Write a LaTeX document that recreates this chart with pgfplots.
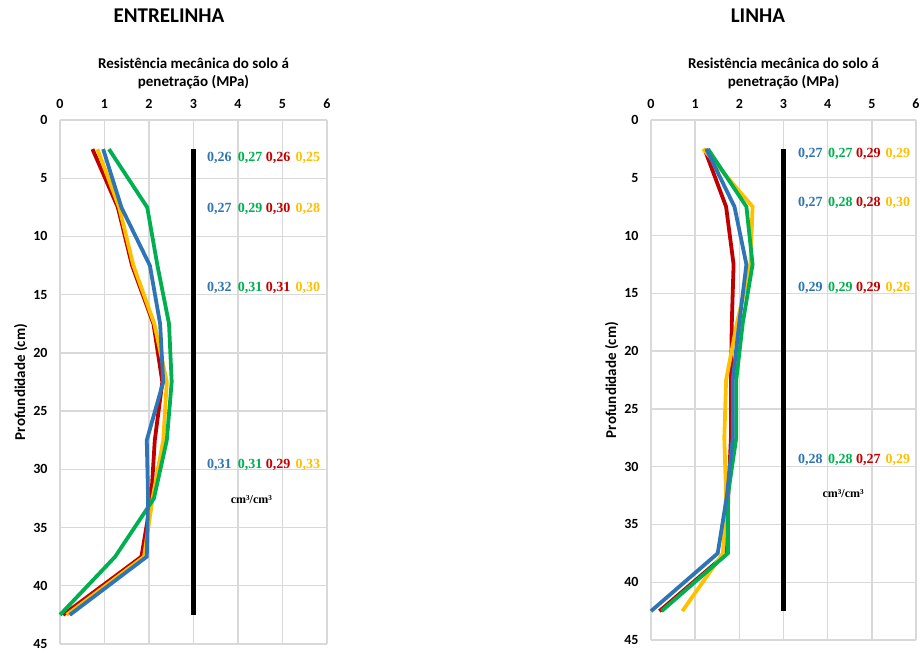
\documentclass[border=0pt]{standalone}
\usepackage{pgfplots}
\usepackage{pgfplotstable}
\pgfplotsset{compat=1.18}
\usepackage{fontspec}
\setmainfont{Carlito}
\newfontfamily\annfont{Liberation Serif}
\definecolor{cblue}{HTML}{2E75B6}
\definecolor{cgreen}{HTML}{00B050}
\definecolor{cred}{HTML}{C00000}
\definecolor{cyellow}{HTML}{FFC000}

\pgfplotstableread{
depth blue green red yellow
2.5  0.97 1.10 0.73 0.84
7.5  1.38 1.96 1.30 1.33
12.5 2.02 2.19 1.62 1.65
17.5 2.25 2.45 2.10 2.12
22.5 2.32 2.51 2.30 2.40
27.5 1.95 2.40 2.13 2.32
32.5 1.98 2.11 2.05 2.08
37.5 1.95 1.24 1.83 1.89
42.5 0.22 0.00 0.07 0.15
}\entrelinha

\pgfplotstableread{
depth blue green red yellow
2.5  1.25 1.29 1.21 1.18
7.5  1.89 2.16 1.70 2.30
12.5 2.16 2.30 1.87 2.25
17.5 2.00 2.08 1.83 1.95
22.5 1.85 1.93 1.81 1.70
27.5 1.85 1.93 1.81 1.66
32.5 1.72 1.74 1.75 1.70
37.5 1.51 1.74 1.72 1.63
42.5 0.00 0.24 0.19 0.71
}\linha

\pgfplotstableread{
x y
3 2.5
3 42.5
}\limite

\tikzset{ann/.style={font=\annfont\bfseries\fontsize{14}{16}\selectfont, inner sep=0pt}}

\pgfplotsset{
  panel/.style={
    scale only axis,
    anchor=north west,
    xmin=0, xmax=6, ymin=0, ymax=45,
    y dir=reverse,
    xtick={0,1,...,6}, ytick={0,5,...,45},
    xticklabel pos=top,
    axis line style={draw=none},
    tick style={draw=none},
    grid=major,
    major grid style={color=black!15, line width=1.4pt},
    /pgf/number format/assume math mode=true,
    ticklabel style={font=\bfseries\fontsize{14}{16}\selectfont},
    xticklabel style={yshift=8pt},
    yticklabel style={xshift=-9pt},
    label style={font=\bfseries\fontsize{15}{18}\selectfont},
    xlabel style={align=center, yshift=3pt},
    xlabel={Resistência mecânica do solo á\\penetração (MPa)},
    ylabel={Profundidade (cm)},
    ylabel style={yshift=-1pt},
    every axis plot/.append style={line width=3.8pt, line join=miter},
    clip=false,
  },
}

\begin{document}
\begin{tikzpicture}
\path[use as bounding box] (0,-653pt) rectangle (922pt,0pt);
\node[font=\bfseries\fontsize{21}{24}\selectfont] at (169pt,-16pt) {ENTRELINHA};
\node[font=\bfseries\fontsize{21}{24}\selectfont] at (758pt,-16pt) {LINHA};

\begin{axis}[panel, at={(60pt,-120pt)}, width=267pt, height=524pt]
\addplot[cred] table[x=red, y=depth] {\entrelinha};
\addplot[cyellow] table[x=yellow, y=depth] {\entrelinha};
\addplot[cgreen] table[x=green, y=depth] {\entrelinha};
\addplot[cblue] table[x=blue, y=depth] {\entrelinha};
\addplot[black, line width=4.2pt] table[x=x, y=y] {\limite};
\node[ann, text=cblue]   at (axis cs:3.58,3.25) {0,26};
\node[ann, text=cgreen]  at (axis cs:4.27,3.25) {0,27};
\node[ann, text=cred]    at (axis cs:4.90,3.25) {0,26};
\node[ann, text=cyellow] at (axis cs:5.57,3.25) {0,25};
\node[ann, text=cblue]   at (axis cs:3.58,7.6) {0,27};
\node[ann, text=cgreen]  at (axis cs:4.27,7.6) {0,29};
\node[ann, text=cred]    at (axis cs:4.90,7.6) {0,30};
\node[ann, text=cyellow] at (axis cs:5.57,7.6) {0,28};
\node[ann, text=cblue]   at (axis cs:3.58,14.4) {0,32};
\node[ann, text=cgreen]  at (axis cs:4.27,14.4) {0,31};
\node[ann, text=cred]    at (axis cs:4.90,14.4) {0,31};
\node[ann, text=cyellow] at (axis cs:5.57,14.4) {0,30};
\node[ann, text=cblue]   at (axis cs:3.58,29.6) {0,31};
\node[ann, text=cgreen]  at (axis cs:4.27,29.6) {0,31};
\node[ann, text=cred]    at (axis cs:4.90,29.6) {0,29};
\node[ann, text=cyellow] at (axis cs:5.57,29.6) {0,33};
\node[ann, text=black, font=\annfont\bfseries\fontsize{12}{14}\selectfont]   at (axis cs:4.3,32.6) {cm³/cm³};
\end{axis}

\begin{axis}[panel, at={(651pt,-120pt)}, width=265pt, height=520pt]
\addplot[cred] table[x=red, y=depth] {\linha};
\addplot[cyellow] table[x=yellow, y=depth] {\linha};
\addplot[cgreen] table[x=green, y=depth] {\linha};
\addplot[cblue] table[x=blue, y=depth] {\linha};
\addplot[black, line width=4.2pt] table[x=x, y=y] {\limite};
\node[ann, text=cblue]   at (axis cs:3.61,2.9) {0,27};
\node[ann, text=cgreen]  at (axis cs:4.29,2.9) {0,27};
\node[ann, text=cred]    at (axis cs:4.92,2.9) {0,29};
\node[ann, text=cyellow] at (axis cs:5.59,2.9) {0,29};
\node[ann, text=cblue]   at (axis cs:3.61,7.2) {0,27};
\node[ann, text=cgreen]  at (axis cs:4.29,7.2) {0,28};
\node[ann, text=cred]    at (axis cs:4.92,7.2) {0,28};
\node[ann, text=cyellow] at (axis cs:5.59,7.2) {0,30};
\node[ann, text=cblue]   at (axis cs:3.61,14.55) {0,29};
\node[ann, text=cgreen]  at (axis cs:4.29,14.55) {0,29};
\node[ann, text=cred]    at (axis cs:4.92,14.55) {0,29};
\node[ann, text=cyellow] at (axis cs:5.59,14.55) {0,26};
\node[ann, text=cblue]   at (axis cs:3.61,29.4) {0,28};
\node[ann, text=cgreen]  at (axis cs:4.29,29.4) {0,28};
\node[ann, text=cred]    at (axis cs:4.92,29.4) {0,27};
\node[ann, text=cyellow] at (axis cs:5.59,29.4) {0,29};
\node[ann, text=black, font=\annfont\bfseries\fontsize{12}{14}\selectfont]   at (axis cs:4.35,32.3) {cm³/cm³};
\end{axis}
\end{tikzpicture}
\end{document}
